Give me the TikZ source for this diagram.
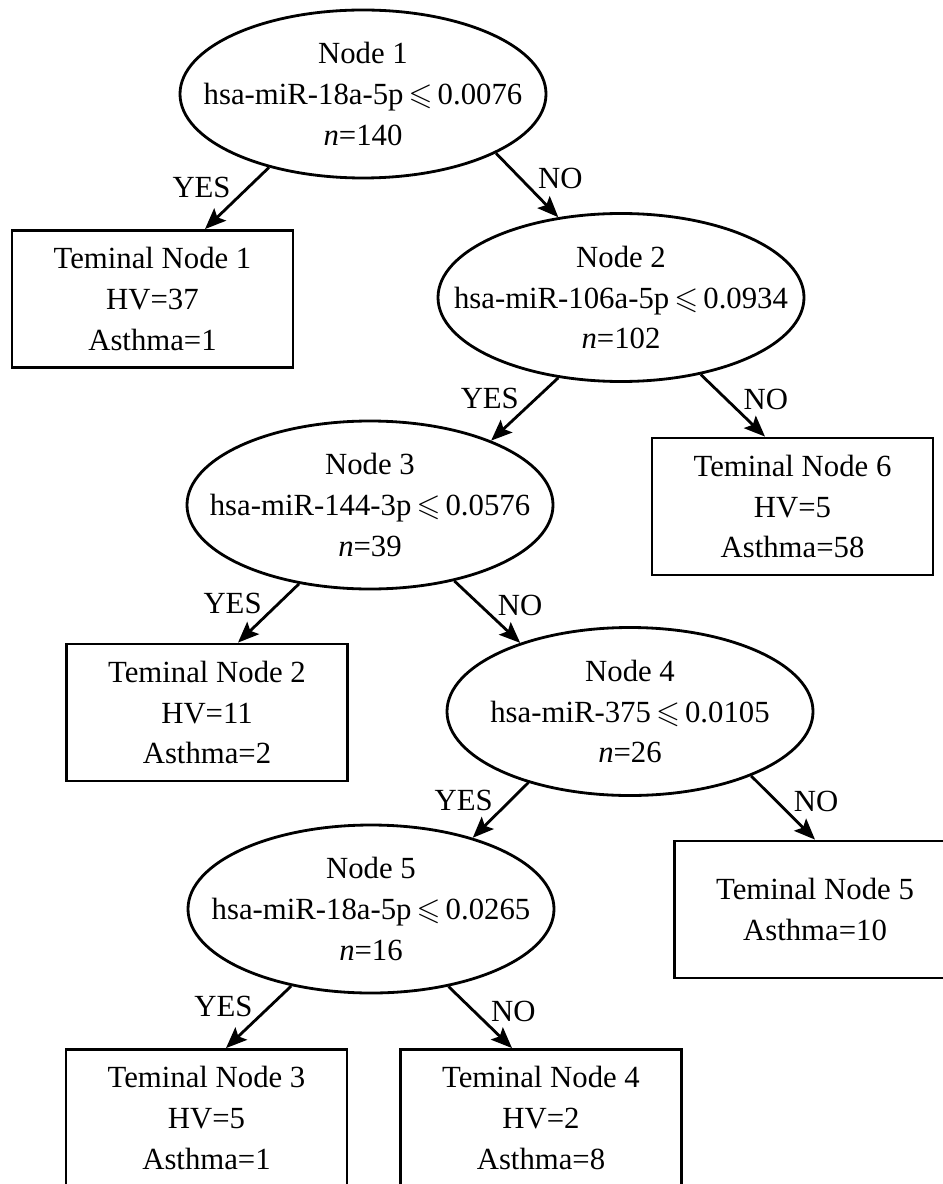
\documentclass[tikz,border=0pt]{standalone}
\usepackage{fontspec}
\setmainfont{Liberation Serif}
\usepackage{amssymb}
\usetikzlibrary{shapes.geometric,positioning,arrows.meta}

\begin{document}
\begin{tikzpicture}[node distance=4.1cm,
  >={Stealth[length=4.2mm,width=3.4mm,inset=0.8mm]},
  every node/.style={font=\fontsize{17.5}{23.3}\selectfont},
  split/.style={ellipse, draw=black, line width=1.6pt, minimum width=7.32cm, minimum height=3.36cm, inner sep=0pt},
  splittext/.style={align=center, inner sep=0pt},
  leaf/.style={rectangle, draw=black, line width=1.6pt, minimum width=5.62cm, minimum height=2.74cm, text centered, align=center},
  yeslabel/.style={pos=0.33, left=2mm},
  nolabel/.style={pos=0.4, right=2mm}]
\useasboundingbox (0,0) rectangle (18.84,-23.68);

\node (n1) [split, label={[splittext]center:{Node 1\\hsa-miR-18a-5p\,$\leqslant$\,0.0076\\\textit{n}=140}}] at (7.26,-1.88) {};
\node (t1) [leaf, below of=n1, xshift=-4.21cm] {Teminal Node 1\\HV=37\\Asthma=1};
\node (n2) [split, below of=n1, xshift=5.16cm, yshift=0.03cm, label={[splittext]center:{Node 2\\hsa-miR-106a-5p\,$\leqslant$\,0.0934\\\textit{n}=102}}] {};
\node (t6) [leaf, below of=n2, xshift=3.43cm, yshift=-0.08cm] {Teminal Node 6\\HV=5\\Asthma=58};
\node (n3) [split, below of=n2, xshift=-5.02cm, yshift=-0.05cm, label={[splittext]center:{Node 3\\hsa-miR-144-3p\,$\leqslant$\,0.0576\\\textit{n}=39}}] {};
\node (t2) [leaf, below of=n3, xshift=-3.26cm, yshift=-0.05cm] {Teminal Node 2\\HV=11\\Asthma=2};
\node (n4) [split, below of=n3, xshift=5.2cm, yshift=-0.03cm, label={[splittext]center:{Node 4\\hsa-miR-375\,$\leqslant$\,0.0105\\\textit{n}=26}}] {};
\node (t5) [leaf, below of=n4, xshift=3.7cm, yshift=0.14cm] {Teminal Node 5\\Asthma=10};
\node (n5) [split, below of=n4, xshift=-5.18cm, yshift=0.15cm, label={[splittext]center:{Node 5\\hsa-miR-18a-5p\,$\leqslant$\,0.0265\\\textit{n}=16}}] {};
\node (t3) [leaf, below of=n5, xshift=-3.29cm, yshift=-0.08cm] {Teminal Node 3\\HV=5\\Asthma=1};
\node (t4) [leaf, below of=n5, xshift=3.4cm, yshift=-0.08cm] {Teminal Node 4\\HV=2\\Asthma=8};

\draw[->, line width=1.6pt] (n1.218) -- ([xshift=1.05cm]t1.north) node[yeslabel] {YES};
\draw[->, line width=1.6pt] (n1.336) -- (n2.128) node[nolabel] {NO};
\draw[->, line width=1.6pt] (n2.232) -- (n3.28) node[yeslabel] {YES};
\draw[->, line width=1.6pt] (n2.316) -- ([xshift=-0.55cm]t6.north) node[nolabel] {NO};
\draw[->, line width=1.6pt] (n3.228) -- ([xshift=0.62cm]t2.north) node[yeslabel] {YES};
\draw[->, line width=1.6pt] (n3.318) -- (n4.148) node[nolabel] {NO};
\draw[->, line width=1.6pt] (n4.215) -- (n5.35) node[yeslabel] {YES};
\draw[->, line width=1.6pt] (n4.332) -- (t5.north) node[nolabel] {NO};
\draw[->, line width=1.6pt] (n5.224) -- ([xshift=0.39cm]t3.north) node[yeslabel] {YES};
\draw[->, line width=1.6pt] (n5.315) -- ([xshift=-0.58cm]t4.north) node[nolabel] {NO};

\end{tikzpicture}
\end{document}
